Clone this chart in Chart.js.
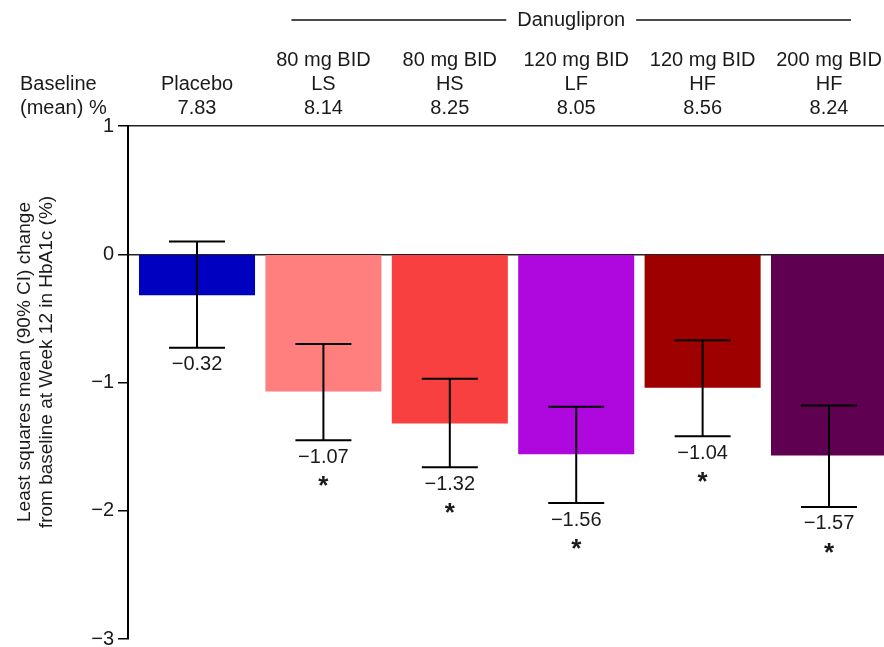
<!DOCTYPE html>
<html>
<head>
<meta charset="utf-8">
<script src="https://cdn.jsdelivr.net/npm/chart.js@4.4.1/dist/chart.umd.min.js"></script>
<style>
  html, body { margin: 0; padding: 0; background: #fff; overflow: hidden; }
  canvas { display: block; }
</style>
</head>
<body>
<canvas id="myChart" width="884" height="647"></canvas>
<script>
const categories = ['Placebo', '80 mg BID LS', '80 mg BID HS', '120 mg BID LF', '120 mg BID HF', '200 mg BID HF'];
const doseLine = ['', '80 mg BID', '80 mg BID', '120 mg BID', '120 mg BID', '200 mg BID'];
const armLine = ['Placebo', 'LS', 'HS', 'LF', 'HF', 'HF'];
const baselineMean = ['7.83', '8.14', '8.25', '8.05', '8.56', '8.24'];
const lsMeans = [-0.32, -1.07, -1.32, -1.56, -1.04, -1.57];
const ciHigh = [0.10, -0.70, -0.97, -1.19, -0.67, -1.18];
const ciLow = [-0.73, -1.45, -1.66, -1.94, -1.42, -1.97];
const significant = [false, true, true, true, true, true];
const barColors = ['#0000c0', '#ff7f7f', '#f94040', '#ae08df', '#9e0000', '#5f0050'];
const yTicks = [1, 0, -1, -2, -3];

const FONT = '"Liberation Sans", Arial, Helvetica, sans-serif';
const TEXT = '#1a1a1a';

function minus(v) {
  return v < 0 ? '\u2212' + Math.abs(v) : String(v);
}

// error bars, value labels, header rows and y title
const annotations = {
  id: 'annotations',
  afterDatasetsDraw(chart) {
    const ctx = chart.ctx;
    const x = chart.scales.x;
    const y = chart.scales.y;
    ctx.save();

    ctx.strokeStyle = '#000';
    ctx.lineWidth = 2;
    lsMeans.forEach((v, i) => {
      const px = x.getPixelForValue(i);
      const top = y.getPixelForValue(ciHigh[i]);
      const bot = y.getPixelForValue(ciLow[i]);
      ctx.beginPath();
      ctx.moveTo(px, top); ctx.lineTo(px, bot);
      ctx.moveTo(px - 28, top); ctx.lineTo(px + 28, top);
      ctx.moveTo(px - 28, bot); ctx.lineTo(px + 28, bot);
      ctx.stroke();

      ctx.fillStyle = TEXT;
      ctx.textAlign = 'center';
      ctx.textBaseline = 'middle';
      ctx.font = '20px ' + FONT;
      ctx.fillText('\u2212' + Math.abs(v).toFixed(2), px, bot + 17);
      if (significant[i]) {
        ctx.font = 'bold 26px ' + FONT;
        ctx.textBaseline = 'alphabetic';
        ctx.fillText('*', px, bot + 54);
      }
    });

    // header rows
    ctx.fillStyle = TEXT;
    ctx.font = '20px ' + FONT;
    ctx.textBaseline = 'middle';
    ctx.textAlign = 'left';
    ctx.fillText('Baseline', 20, 84);
    ctx.fillText('(mean) %', 20, 108);
    ctx.textAlign = 'center';
    categories.forEach((c, i) => {
      const px = x.getPixelForValue(i);
      ctx.fillText(doseLine[i], px, 60);
      ctx.fillText(armLine[i], px, 84);
      ctx.fillText(baselineMean[i], px, 108);
    });

    // Danuglipron bracket
    const left = x.getPixelForValue(1) - 32;
    const right = x.getPixelForValue(5) + 22;
    const mid = (left + right) / 2;
    const half = ctx.measureText('Danuglipron').width / 2 + 11;
    ctx.fillText('Danuglipron', mid, 20);
    ctx.strokeStyle = '#111';
    ctx.lineWidth = 1.5;
    ctx.beginPath();
    ctx.moveTo(left, 20); ctx.lineTo(mid - half, 20);
    ctx.moveTo(mid + half, 20); ctx.lineTo(right, 20);
    ctx.stroke();

    // y axis title
    ctx.translate(25, 362);
    ctx.rotate(-Math.PI / 2);
    ctx.font = '19px ' + FONT;
    ctx.fillText('Least squares mean (90% CI) change', 0, 0);
    ctx.fillText('from baseline at Week 12 in HbA1c (%)', 0, 22);
    ctx.restore();
  }
};

const chart = new Chart(document.getElementById('myChart'), {
  type: 'bar',
  data: {
    labels: categories,
    datasets: [{
      data: lsMeans.map((v, i) => ({ x: i, y: v })),
      backgroundColor: barColors,
      borderWidth: 0,
      categoryPercentage: 1,
      barPercentage: 0.918,
    }],
  },
  options: {
    responsive: false,
    animation: false,
    devicePixelRatio: 1,
    layout: { padding: { top: 126, bottom: 8, left: 0, right: 0 } },
    plugins: { legend: { display: false }, tooltip: { enabled: false } },
    scales: {
      x: {
        type: 'linear',
        min: -0.546,
        max: 5.435,
        offset: false,
        grid: { offset: false },
        afterBuildTicks: (s) => { s.ticks = categories.map((c, i) => ({ value: i })); },
        display: false,
      },
      y: {
        min: Math.min(...yTicks),
        max: Math.max(...yTicks),
        afterFit: (s) => { s.width = 128; s.paddingTop = 0; s.paddingBottom = 0; },
        afterBuildTicks: (s) => { s.ticks = yTicks.map(v => ({ value: v })); },
        ticks: {
          padding: 4,
          color: TEXT,
          font: { family: FONT, size: 20 },
          callback: (v) => minus(v),
        },
        grid: {
          color: (c) => (c.tick && (c.tick.value === 0 || c.tick.value === 1)) ? '#222' : 'rgba(0,0,0,0)',
          tickColor: '#000',
          tickLength: 10,
          lineWidth: 1.5,
        },
        border: { color: '#000', width: 2 },
      },
    },
  },
  plugins: [annotations],
});
</script>
</body>
</html>
